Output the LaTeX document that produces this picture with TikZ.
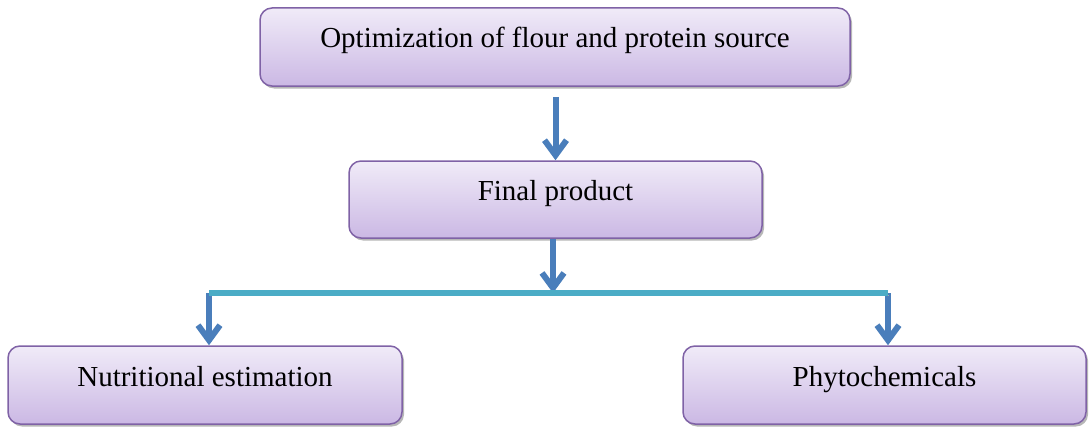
\documentclass[tikz,border=0pt]{standalone}
\usepackage{fontspec}
\setmainfont{Liberation Serif}
\usetikzlibrary{arrows.meta,shadows}

\definecolor{boxtop}{HTML}{F0EBF8}
\definecolor{boxbot}{HTML}{CBB8E4}
\definecolor{boxline}{HTML}{7F62A6}
\definecolor{arrowblue}{HTML}{4A7EBB}
\definecolor{lineteal}{HTML}{4BACC6}

\tikzset{
        flowbox/.style={draw=boxline, line width=1.5pt, rounded corners=12pt,
                top color=boxtop, bottom color=boxbot,
                drop shadow={shadow xshift=2pt, shadow yshift=-2.5pt, fill=black!40, opacity=0.7},
                font=\fontsize{29}{34}\selectfont, text height=20pt, text depth=18pt, inner sep=0pt},
        flowarrow/.style={line width=6pt, -{Straight Barb[length=15pt, width=22pt]}, draw=arrowblue,
                preaction={draw=black!35, transform canvas={xshift=1.5pt, yshift=-1.5pt}}},
        splitline/.style={line width=5.5pt, draw=lineteal,
                preaction={draw=black!35, transform canvas={xshift=1pt, yshift=-2.5pt}}}
}

\begin{document}
\begin{tikzpicture}[x=1pt,y=-1pt]
                \useasboundingbox (0,0) rectangle (1089,428);
                \begin{scope}[every node/.style={flowbox}]
                        \node[minimum width=590pt, minimum height=78pt] (opt) at (555,47) {Optimization of flour and protein source};
                        \node[minimum width=413pt, minimum height=77pt] (final) at (555.5,199.5) {Final product};
                        \node[minimum width=394pt, minimum height=78pt] (nut) at (205,385) {Nutritional estimation};
                        \node[minimum width=403pt, minimum height=78pt] (phy) at (884.5,385) {Phytochemicals};
                \end{scope}
                \coordinate (split) at (553,293);
                \coordinate (left) at (209,293);
                \coordinate (right) at (888,293);
                \draw[flowarrow, shorten <=10pt] (final.north |- opt.south) -- (final.north);
                \draw[flowarrow] (split |- final.south) -- (split);
                \draw[flowarrow] (left) -- (left |- nut.north);
                \draw[flowarrow] (right) -- (right |- phy.north);
                \draw[splitline] (left) -- (right);
        \end{tikzpicture}
\end{document}
